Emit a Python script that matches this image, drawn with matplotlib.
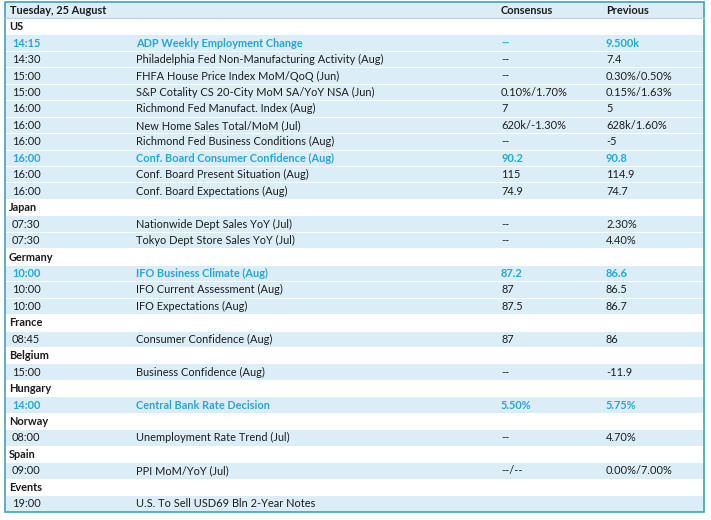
import matplotlib
matplotlib.use("Agg")
import matplotlib.pyplot as plt
from matplotlib.patches import Rectangle

plt.rcParams['font.family'] = ['Lato', 'DejaVu Sans']

# table content, grouped by country
title = "Tuesday, 25 August"
col_heads = ["Consensus", "Previous"]

countries = ["US", "Japan", "Germany", "France", "Belgium", "Hungary",
             "Norway", "Spain", "Events"]
times = [
    ["14:15", "14:30", "15:00", "15:00", "16:00", "16:00", "16:00", "16:00", "16:00", "16:00"],
    ["07:30", "07:30"],
    ["10:00", "10:00", "10:00"],
    ["08:45"],
    ["15:00"],
    ["14:00"],
    ["08:00"],
    ["09:00"],
    ["19:00"],
]
events = [
    ["ADP Weekly Employment Change",
     "Philadelphia Fed Non-Manufacturing Activity (Aug)",
     "FHFA House Price Index MoM/QoQ (Jun)",
     "S&P Cotality CS 20-City MoM SA/YoY NSA (Jun)",
     "Richmond Fed Manufact. Index (Aug)",
     "New Home Sales Total/MoM (Jul)",
     "Richmond Fed Business Conditions (Aug)",
     "Conf. Board Consumer Confidence (Aug)",
     "Conf. Board Present Situation (Aug)",
     "Conf. Board Expectations (Aug)"],
    ["Nationwide Dept Sales YoY (Jul)",
     "Tokyo Dept Store Sales YoY (Jul)"],
    ["IFO Business Climate (Aug)",
     "IFO Current Assessment (Aug)",
     "IFO Expectations (Aug)"],
    ["Consumer Confidence (Aug)"],
    ["Business Confidence (Aug)"],
    ["Central Bank Rate Decision"],
    ["Unemployment Rate Trend (Jul)"],
    ["PPI MoM/YoY (Jul)"],
    ["U.S. To Sell USD69 Bln 2-Year Notes"],
]
consensus = [
    ["--", "--", "--", "0.10%/1.70%", "7", "620k/-1.30%", "--", "90.2", "115", "74.9"],
    ["--", "--"],
    ["87.2", "87", "87.5"],
    ["87"],
    ["--"],
    ["5.50%"],
    ["--"],
    ["--/--"],
    [""],
]
previous = [
    ["9.500k", "7.4", "0.30%/0.50%", "0.15%/1.63%", "5", "628k/1.60%", "-5", "90.8", "114.9", "74.7"],
    ["2.30%", "4.40%"],
    ["86.6", "86.5", "86.7"],
    ["86"],
    ["-11.9"],
    ["5.75%"],
    ["4.70%"],
    ["0.00%/7.00%"],
    [""],
]
highlight = [
    [True, False, False, False, False, False, False, True, False, False],
    [False, False],
    [True, False, False],
    [False],
    [False],
    [True],
    [False],
    [False],
    [False],
]

BORDER = "#3ba7bb"
ROWBG = "#dbeef8"
HEADBG = "#dcedf6"
HILITE = "#25a7d8"
TXT = "#1c1c1c"

fig = plt.figure(figsize=(7.11, 5.20), dpi=100)
ax = fig.add_axes([0, 0, 1, 1])
ax.set_xlim(0, 711)
ax.set_ylim(520, 0)
ax.axis("off")

left, right, top, bottom = 5, 704, 2, 512
n_rows = 1 + sum(1 + len(t) for t in times)
rh = (bottom - top) / n_rows
x_time, x_event, x_cons, x_prev = 12, 136, 501, 606
fs = 7.9


def row_y(i):
    return top + rh * i


# header
ax.add_patch(Rectangle((left, row_y(0)), right - left, rh, facecolor=HEADBG,
                       edgecolor="none"))
yc = row_y(0) + rh / 2
ax.text(10, yc, title, fontsize=fs, fontweight="bold", color=TXT, va="center")
ax.text(x_cons, yc, col_heads[0], fontsize=fs, fontweight="bold", color=TXT, va="center")
ax.text(x_prev, yc, col_heads[1], fontsize=fs, fontweight="bold", color=TXT, va="center")

i = 1
for g, country in enumerate(countries):
    yc = row_y(i) + rh / 2
    ax.text(9, yc, country, fontsize=fs, fontweight="bold", color=TXT, va="center")
    i += 1
    for k in range(len(times[g])):
        ax.add_patch(Rectangle((left, row_y(i) + 0.5), right - left, rh - 1,
                               facecolor=ROWBG, edgecolor="none"))
        yc = row_y(i) + rh / 2
        hl = highlight[g][k]
        c = HILITE if hl else TXT
        w = "bold" if hl else "normal"
        ax.text(x_time, yc, times[g][k], fontsize=fs, color=c, fontweight=w, va="center")
        ax.text(x_event, yc, events[g][k], fontsize=fs, color=c, fontweight=w, va="center")
        ax.text(x_cons, yc, consensus[g][k], fontsize=fs, color=c, fontweight=w, va="center")
        ax.text(x_prev, yc, previous[g][k], fontsize=fs, color=c, fontweight=w, va="center")
        i += 1

# outer border
ax.add_patch(Rectangle((left, top), right - left, bottom - top, facecolor="none",
                       edgecolor=BORDER, linewidth=1.2))
ax.plot([left, right], [row_y(1), row_y(1)], color="#a9d7e3", linewidth=0.8)

fig.savefig("out.png", dpi=100)
